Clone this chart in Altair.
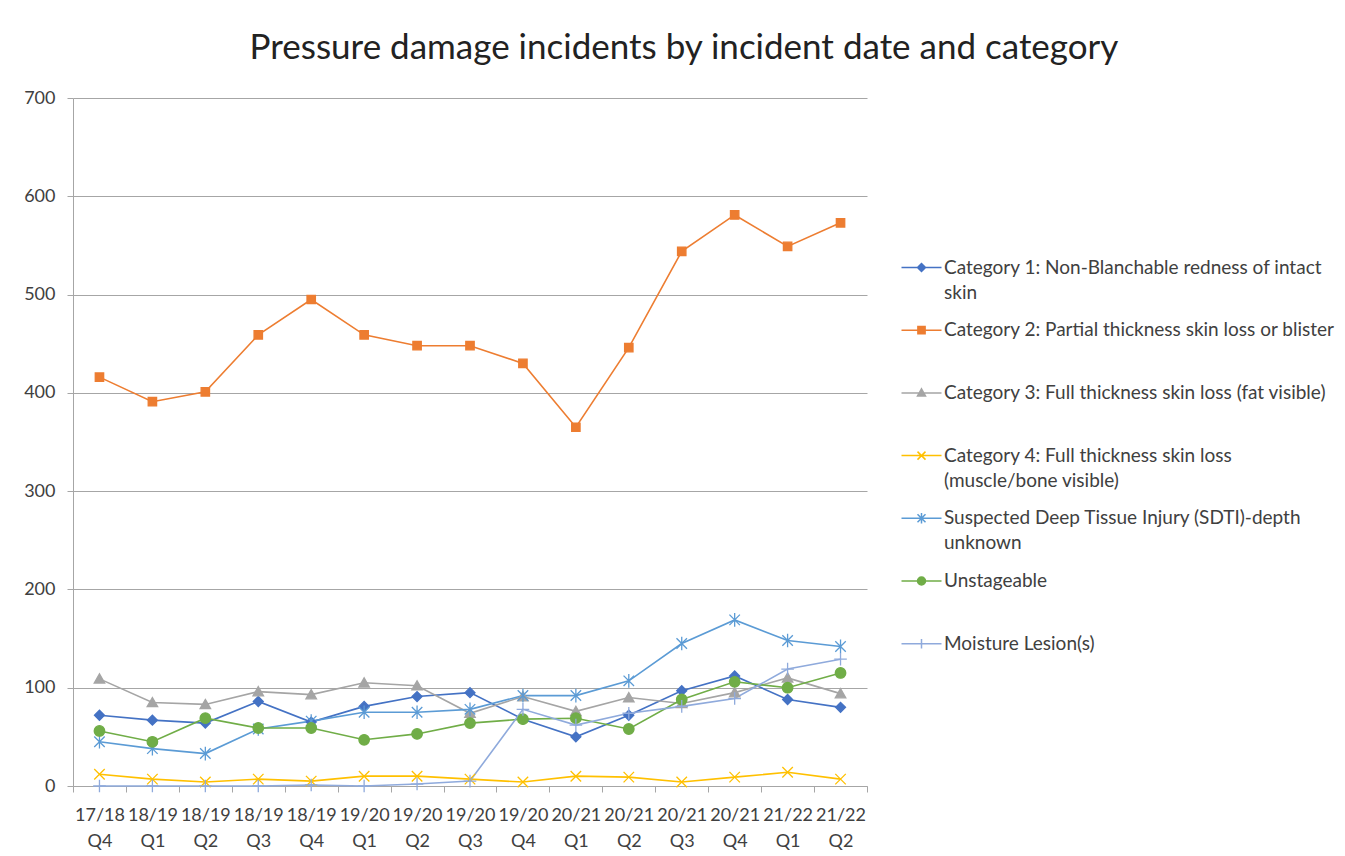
import altair as alt
import pandas as pd

quarters = ["17/18 Q4", "18/19 Q1", "18/19 Q2", "18/19 Q3", "18/19 Q4",
            "19/20 Q1", "19/20 Q2", "19/20 Q3", "19/20 Q4",
            "20/21 Q1", "20/21 Q2", "20/21 Q3", "20/21 Q4",
            "21/22 Q1", "21/22 Q2"]

series_names = [
    "Category 1: Non-Blanchable redness of intact skin",
    "Category 2: Partial thickness skin loss or blister",
    "Category 3: Full thickness skin loss (fat visible)",
    "Category 4: Full thickness skin loss (muscle/bone visible)",
    "Suspected Deep Tissue Injury (SDTI)-depth unknown",
    "Unstageable",
    "Moisture Lesion(s)",
]

cat1 = [72, 67, 64, 86, 65, 81, 91, 95, 68, 50, 72, 97, 112, 88, 80]
cat2 = [416, 391, 401, 459, 495, 459, 448, 448, 430, 365, 446, 544, 581, 549, 573]
cat3 = [109, 85, 83, 96, 93, 105, 102, 74, 91, 76, 90, 84, 95, 110, 94]
cat4 = [12, 7, 4, 7, 5, 10, 10, 7, 4, 10, 9, 4, 9, 14, 7]
sdti = [45, 38, 33, 58, 66, 75, 75, 78, 92, 92, 107, 145, 169, 148, 142]
unstageable = [56, 45, 69, 59, 59, 47, 53, 64, 68, 69, 58, 88, 106, 100, 115]
moisture = [0, 0, 0, 0, 1, 0, 2, 5, 78, 62, 74, 81, 89, 119, 129]

series_values = [cat1, cat2, cat3, cat4, sdti, unstageable, moisture]
colors = ["#4472C4", "#ED7D31", "#A5A5A5", "#FFC000", "#5B9BD5", "#70AD47", "#8FAADC"]

legend_lines = [
    ["Category 1: Non-Blanchable redness of intact", "skin"],
    ["Category 2: Partial thickness skin loss or blister", ""],
    ["Category 3: Full thickness skin loss (fat visible)", ""],
    ["Category 4: Full thickness skin loss", "(muscle/bone visible)"],
    ["Suspected Deep Tissue Injury (SDTI)-depth", "unknown"],
    ["Unstageable", ""],
    ["Moisture Lesion(s)", ""],
]

# marker shapes (plot), unit box -1..1
marker_paths = [
    "M-0.95,0L0,-0.95L0.95,0L0,0.95Z",
    "M-0.8,-0.8L0.8,-0.8L0.8,0.8L-0.8,0.8Z",
    "M0,-0.95L1,0.8L-1,0.8Z",
    "M-1,-1L1,1M-1,1L1,-1",
    "M-1,-1L1,1M-1,1L1,-1M0,-1.3L0,1.3",
    "M-1,0A1,1,0,1,1,1,0A1,1,0,1,1,-1,0Z",
    "M0,-1.2L0,1.2M-1.2,0L1.2,0",
]
# legend symbols: marker with a line through it
legend_marks = [
    "M-1,0L0,-1L1,0L0,1Z",
    "M-0.9,-0.9L0.9,-0.9L0.9,0.9L-0.9,0.9Z",
    "M0,-1L1,0.8L-1,0.8Z",
    "M-1,-1L1,1M-1,1L1,-1",
    "M-1,-1L1,1M-1,1L1,-1M0,-1.3L0,1.3",
    "M-1,0A1,1,0,1,1,1,0A1,1,0,1,1,-1,0Z",
    "M0,-1.2L0,1.2",
]
legend_paths = ["M-5,0L5,0" + p for p in legend_marks]

rows = []
for name, vals in zip(series_names, series_values):
    for q, v in zip(quarters, vals):
        rows.append({"series": name, "quarter": q, "value": v})
df = pd.DataFrame(rows)

FONT = "Lato"
TXT = "#404040"

label_expr = ""
for name, lines in zip(series_names, legend_lines):
    label_expr += "datum.label == '%s' ? ['%s', '%s'] : " % (name, lines[0], lines[1])
label_expr += "datum.label"

cscale = alt.Scale(domain=series_names, range=colors)
xscale = alt.Scale(type="band", paddingInner=0, paddingOuter=0)

leg = alt.Legend(title=None, orient="none", legendX=839, legendY=160,
                 labelExpr=label_expr, labelFont=FONT, labelFontSize=19,
                 labelColor=TXT, labelLimit=2000,
                 labelBaseline="middle", labelOffset=13,
                 symbolSize=64, symbolStrokeWidth=1.5, rowPadding=17.7, padding=0)


def X():
    return alt.X("quarter:N", sort=quarters, scale=xscale, title=None,
                 axis=alt.Axis(labelExpr="split(datum.label, ' ')", labelAngle=0,
                               tickBand="extent", tickSize=6, tickColor="#A6A6A6",
                               domainColor="#A6A6A6", labelFont=FONT, labelFontSize=18,
                               labelColor=TXT, labelPadding=14, labelLineHeight=26,
                               labelBaseline="top"))


def Y():
    return alt.Y("value:Q", title=None,
                 scale=alt.Scale(domain=[0, 700], nice=False),
                 axis=alt.Axis(values=list(range(0, 701, 100)), tickSize=6,
                               tickColor="#A6A6A6", domainColor="#A6A6A6",
                               gridColor="#A6A6A6", grid=True, labelFont=FONT,
                               labelFontSize=18, labelColor=TXT, labelPadding=12))


def C():
    return alt.Color("series:N", scale=cscale, legend=leg)


def S():
    return alt.Stroke("series:N", scale=cscale, legend=leg)


base = alt.Chart(df)

legend_layer = base.mark_point(filled=True, opacity=0, strokeWidth=1.5).encode(
    x=X(), y=Y(), color=C(), stroke=S(),
    shape=alt.Shape("series:N", scale=alt.Scale(domain=series_names, range=legend_paths), legend=leg),
)

lines_layer = base.mark_line(strokeWidth=1.6).encode(x=X(), y=Y(), color=C())

point_layers = []
for name, path in zip(series_names, marker_paths):
    point_layers.append(
        base.transform_filter(alt.datum.series == name)
        .mark_point(shape=path, size=110, filled=True, opacity=1, strokeWidth=1.3)
        .encode(x=X(), y=Y(), color=C(), stroke=S())
    )

chart = alt.layer(legend_layer, lines_layer, *point_layers).properties(
    width=794, height=688,
    title=alt.TitleParams("Pressure damage incidents by incident date and category",
                          font=FONT, fontSize=35, fontWeight="normal", color="#222222",
                          anchor="middle", offset=23, dx=214),
    padding={"left": 65, "top": 90, "right": 470, "bottom": 70},
    autosize=alt.AutoSizeParams(type="none"),
).configure(
    background="white",
    style={"guide-label": {"lineHeight": 25}},
).configure_view(stroke=None)

chart.save("out.html", embed_options={"renderer": "svg", "actions": False})
